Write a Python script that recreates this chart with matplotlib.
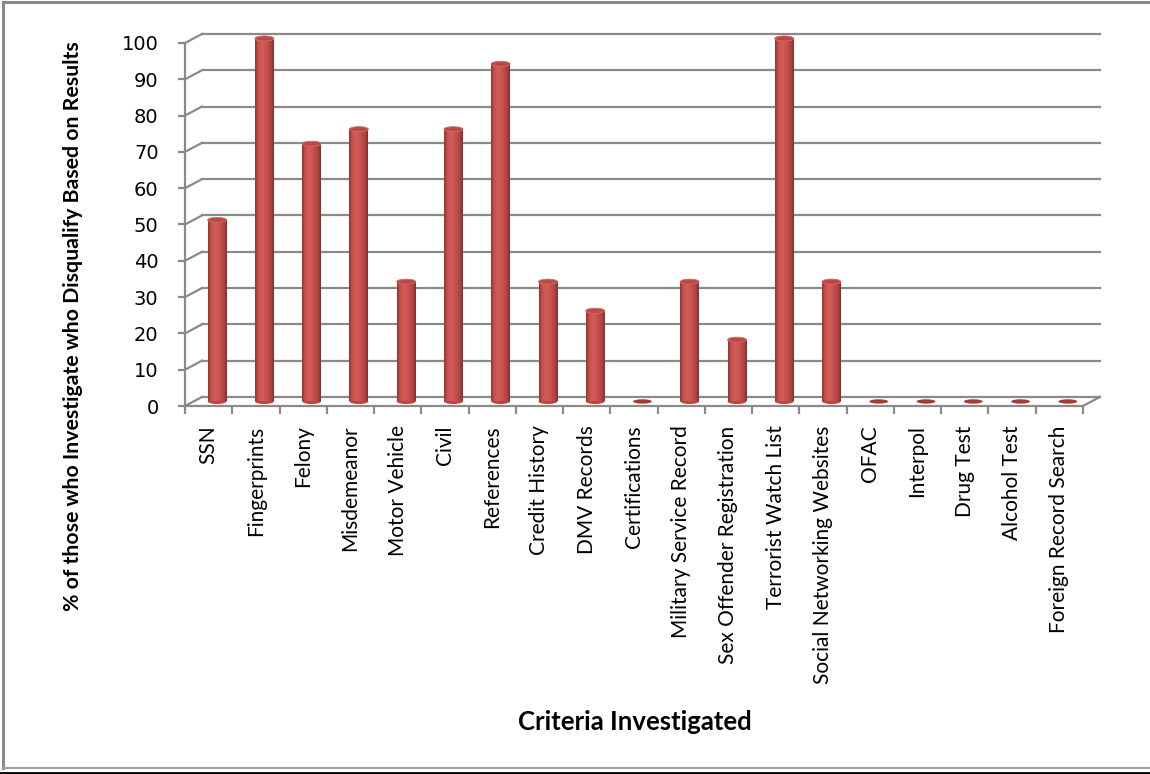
import matplotlib
matplotlib.use("Agg")
import matplotlib.pyplot as plt
import numpy as np
from matplotlib.patches import Ellipse
from matplotlib.colors import LinearSegmentedColormap
from matplotlib.lines import Line2D

# kriteria a procenta diskvalifikaci
kriteria = ["SSN", "Fingerprints", "Felony", "Misdemeanor", "Motor Vehicle", "Civil",
            "References", "Credit History", "DMV Records", "Certifications",
            "Military Service Record", "Sex Offender Registration", "Terrorist Watch List",
            "Social Networking Websites", "OFAC", "Interpol", "Drug Test", "Alcohol Test",
            "Foreign Record Search"]
procenta = [50, 100, 71, 75, 33, 75, 93, 33, 25, 0, 33, 17, 100, 33, 0, 0, 0, 0, 0]
osa_y = list(range(0, 101, 10))

seda = "#8a8a8a"
hloubka_x = 0.36   # posun zadni steny (v kategoriich)
hloubka_y = 2.5    # posun zadni steny (v procentech)
sirka = 0.4

# barevny prechod valce zleva doprava
valec = LinearSegmentedColormap.from_list("valec", [
    (0.0, "#933432"), (0.15, "#c24f4b"), (0.38, "#d55d59"),
    (0.65, "#c44f4c"), (0.88, "#a9403d"), (1.0, "#7f2f2d")])

fig = plt.figure(figsize=(11.5, 7.74), dpi=100)
W, H = 1150, 774
x0, x1 = 185, 185 + 19.36 * 47.26
y0, y1 = 406, 406 - 102.5 * 3.63
ax = fig.add_axes([x0 / W, 1 - y0 / H, (x1 - x0) / W, (y0 - y1) / H])
ax.set_facecolor("none")

# mrizka na zadni stene + sikme spojky
for v in osa_y:
    ax.plot([hloubka_x, 19.36], [v + hloubka_y, v + hloubka_y], color=seda, lw=1.6,
            zorder=1, clip_on=False)
    ax.plot([0, hloubka_x], [v, v + hloubka_y], color=seda, lw=1.6, zorder=1, clip_on=False)
ax.plot([19, 19.36], [0, hloubka_y], color=seda, lw=1.6, zorder=1, clip_on=False)

# valcove sloupce
gradient = np.linspace(0, 1, 64).reshape(1, -1)
for i, p in enumerate(procenta):
    cx = i + 0.5 + hloubka_x / 2
    zaklad = hloubka_y / 2
    if p > 0:
        ax.add_patch(Ellipse((cx, zaklad), sirka, 1.4, facecolor="#b8473f",
                             edgecolor="none", zorder=3))
        ax.imshow(gradient, cmap=valec, aspect="auto", zorder=4, interpolation="bilinear",
                  extent=[cx - sirka / 2, cx + sirka / 2, zaklad, zaklad + p])
        ax.add_patch(Ellipse((cx, zaklad + p), sirka, 1.4, facecolor="#b94a46",
                             edgecolor="#d56a66", lw=0.6, zorder=5, clip_on=False))
    else:
        ax.add_patch(Ellipse((cx, zaklad), sirka, 1.2, facecolor="#a33b38",
                             edgecolor="none", zorder=5))

ax.set_xlim(0, 19.36)
ax.set_ylim(0, 102.5)

for s in ["top", "right"]:
    ax.spines[s].set_visible(False)
ax.spines["left"].set_bounds(0, 100)
ax.spines["bottom"].set_bounds(0, 19)
for s in ["left", "bottom"]:
    ax.spines[s].set_color(seda)
    ax.spines[s].set_linewidth(1.6)
    ax.spines[s].set_zorder(6)

ax.set_yticks(osa_y)
ax.set_yticklabels([str(v) for v in osa_y], fontsize=14, family="DejaVu Sans")
ax.tick_params(axis="y", direction="out", length=5, width=1.6, color=seda, pad=14)

ax.set_xticks(np.arange(19) + 0.5)
ax.set_xticklabels(kriteria, rotation=90, fontsize=15, family="Lato")
ax.set_xticks(np.arange(20), minor=True)
ax.tick_params(axis="x", which="major", length=0, pad=14)
ax.tick_params(axis="x", which="minor", direction="out", length=6, width=1.6, color=seda)

fig.text(73 / W, 1 - 326 / H, "% of those who Investigate who Disqualify Based on Results",
         rotation=90, ha="center", va="center", fontsize=15.3, fontweight="bold",
         family="Lato")
fig.text(635 / W, 1 - 722 / H, "Criteria Investigated", ha="center", va="center",
         fontsize=18.5, fontweight="bold", family="Lato")

# ramecek
ramecek = [([3, W], [2, 2], seda, 2.2), ([3, 3], [2, 768], seda, 2.2),
           ([3, W], [768, 768], "#a0a0a0", 1.5), ([0, W], [772.5, 772.5], "black", 2)]
for xs, ys, c, lw in ramecek:
    fig.add_artist(Line2D([x / W for x in xs], [1 - y / H for y in ys], color=c, lw=lw))

fig.savefig("out.png", dpi=100)
